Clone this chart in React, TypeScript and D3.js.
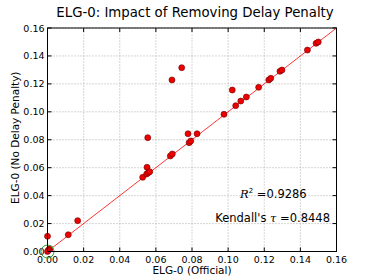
import React from 'react'
import * as d3 from 'd3'

const official = [
  0.0555, 0.0689, 0.0743, 0.0778, 0.0828, 0.0977, 0.1023, 0.1042, 0.1070, 0.1101,
  0.1169, 0.1225, 0.1236, 0.1287, 0.1298, 0.1439, 0.1487, 0.1499, 0.0784, 0.0793,
  0.0680, 0.0691, 0.0551, 0.0527, 0.0549, 0.0558, 0.0566, 0.0167, 0.0115, 0.0,
  0.0014, 0.0005, 0.0,
]
const noDelay = [
  0.0815, 0.1228, 0.1316, 0.0843, 0.0843, 0.0982, 0.1156, 0.1044, 0.1077, 0.1106,
  0.1175, 0.1228, 0.1240, 0.1290, 0.1299, 0.1442, 0.1490, 0.1500, 0.0779, 0.0791,
  0.0684, 0.0698, 0.0603, 0.0531, 0.0555, 0.0564, 0.0571, 0.0221, 0.0120, 0.0109,
  0.0020, 0.0010, 0.0,
]
const ticks = [0, 0.02, 0.04, 0.06, 0.08, 0.1, 0.12, 0.14, 0.16]

const W = 374
const H = 280
const m = { left: 47.5, right: 37.5, top: 28, bottom: 28.5 }

export default function App() {
  const x = d3.scaleLinear().domain([0, 0.16]).range([m.left, W - m.right])
  const y = d3.scaleLinear().domain([0, 0.16]).range([H - m.bottom, m.top])
  const font = 'DejaVu Sans, sans-serif'
  const pts = official.map((v, i) => [v, noDelay[i]])

  return (
    <svg width={W} height={H} style={{ position: 'absolute', left: 0, top: 0, background: '#fff' }} fontFamily={font}>
      <defs>
        <clipPath id="plot">
          <rect x={x(0)} y={y(0.16)} width={x(0.16) - x(0)} height={y(0) - y(0.16)} />
        </clipPath>
      </defs>
      {ticks.map(t => (
        <g key={t}>
          <line x1={x(t)} x2={x(t)} y1={y(0)} y2={y(0.16)} stroke="#999" strokeWidth={0.8} strokeDasharray="1,2" />
          <line x1={x(0)} x2={x(0.16)} y1={y(t)} y2={y(t)} stroke="#999" strokeWidth={0.8} strokeDasharray="1,2" />
          <line x1={x(t)} x2={x(t)} y1={y(0)} y2={y(0) - 4} stroke="#000" />
          <line x1={x(t)} x2={x(t)} y1={y(0.16)} y2={y(0.16) + 4} stroke="#000" />
          <line x1={x(0)} x2={x(0) + 4} y1={y(t)} y2={y(t)} stroke="#000" />
          <line x1={x(0.16)} x2={x(0.16) - 4} y1={y(t)} y2={y(t)} stroke="#000" />
          <text x={x(t)} y={y(0) + 11} textAnchor="middle" fontSize={9.5}>{t.toFixed(2)}</text>
          <text x={x(0) - 3} y={y(t) + 3.5} textAnchor="end" fontSize={9.5}>{t.toFixed(2)}</text>
        </g>
      ))}
      <g clipPath="url(#plot)">
        <line x1={x(0)} y1={y(0)} x2={x(0.16)} y2={y(0.16)} stroke="#f00" strokeWidth={0.8} />
      </g>
      {pts.map((p, i) => (
        <circle key={i} cx={x(p[0])} cy={y(p[1])} r={3} fill="#e00" stroke="#6a0000" strokeWidth={0.6} />
      ))}
      <circle cx={x(0)} cy={y(0)} r={6.5} fill="none" stroke="#3a3" strokeWidth={1} />
      <rect x={x(0)} y={y(0.16)} width={x(0.16) - x(0)} height={y(0) - y(0.16)} fill="none" stroke="#000" strokeWidth={1} />
      <text x={195} y={16.5} textAnchor="middle" fontSize={13.3}>ELG-0: Impact of Removing Delay Penalty</text>
      <text x={(x(0) + x(0.16)) / 2} y={274} textAnchor="middle" fontSize={10.5}>ELG-0 (Official)</text>
      <text transform={`translate(19,${(y(0) + y(0.16)) / 2 - 2}) rotate(-90)`} textAnchor="middle" fontSize={10.5}>ELG-0 (No Delay Penalty)</text>
      <text x={240} y={198} fontSize={11.5}>
        <tspan fontFamily="DejaVu Serif, serif" fontStyle="italic">R</tspan>
        <tspan fontSize={7} dy={-5}>2</tspan>
        <tspan dy={5}> =0.9286</tspan>
      </text>
      <text x={330} y={221.5} textAnchor="end" fontSize={11.5}>
        Kendall's <tspan fontFamily="DejaVu Serif, serif" fontStyle="italic">τ</tspan> =0.8448
      </text>
    </svg>
  )
}
